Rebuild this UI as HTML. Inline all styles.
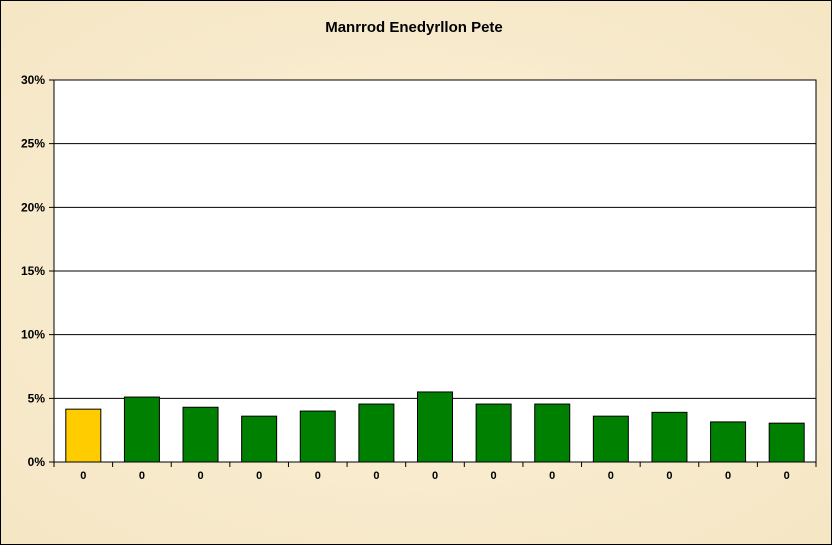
<!DOCTYPE html>
<html><head><meta charset="utf-8"><style>
body{margin:0;background:#f7ebcf}
svg{display:block;font-family:"Liberation Sans",Arial,sans-serif;font-weight:bold}
</style></head><body>
<svg id="c" width="832" height="545">
<defs><radialGradient id="bg" cx="50%" cy="50%" r="70%"><stop offset="0" stop-color="#fbf1da"/><stop offset="1" stop-color="#f5e6c4"/></radialGradient></defs>
<rect x="0.5" y="0.5" width="831" height="544" fill="url(#bg)" stroke="#000"/>
<text x="414" y="32" text-anchor="middle" font-size="15">Manrrod Enedyrllon Pete</text>
<g id="plot"></g>
</svg>
<script>
const categories=["0","0","0","0","0","0","0","0","0","0","0","0","0"];
const values=[4.15,5.1,4.3,3.6,4.0,4.55,5.5,4.55,4.55,3.6,3.9,3.15,3.05];
const yTicks=[0,5,10,15,20,25,30];
const yTickLabels=["0%","5%","10%","15%","20%","25%","30%"];
const L=54,R=816,T=80,B=462,YMAX=30;
const ns="http://www.w3.org/2000/svg";
const g=document.getElementById('plot');
function y(v){return B-(v/YMAX)*(B-T);}
function mk(t,a){const e=document.createElementNS(ns,t);for(const k in a)e.setAttribute(k,a[k]);g.appendChild(e);return e;}
const pa=mk('rect',{x:L,y:T,width:R-L,height:B-T,fill:'#fff',stroke:'#000'});


yTicks.forEach((t,i)=>{
  const gl=mk('line',{x1:L-5,x2:R,y1:y(t),y2:y(t),stroke:'#000'});
  
  
  const tx=mk('text',{x:L-9,y:y(t)+4,'text-anchor':'end','font-size':12});
  tx.textContent=yTickLabels[i];
  
  
});
const n=categories.length,w=(R-L)/n;
for(let i=0;i<=n;i++){
  const tk=mk('line',{x1:L+i*w,x2:L+i*w,y1:B,y2:B+5,stroke:'#000'});
  
  
}
values.forEach((v,i)=>{
  const cx=L+(i+0.5)*w,bw=35;
  const b=mk('rect',{x:cx-bw/2,y:y(v),width:bw,height:B-y(v),fill:i==0?'#ffcc00':'#008000',stroke:'#000'});
  
  
  const tx=mk('text',{x:cx,y:B+17,'text-anchor':'middle','font-size':11});
  tx.textContent=categories[i];
  
  
});
</script>
</body></html>
